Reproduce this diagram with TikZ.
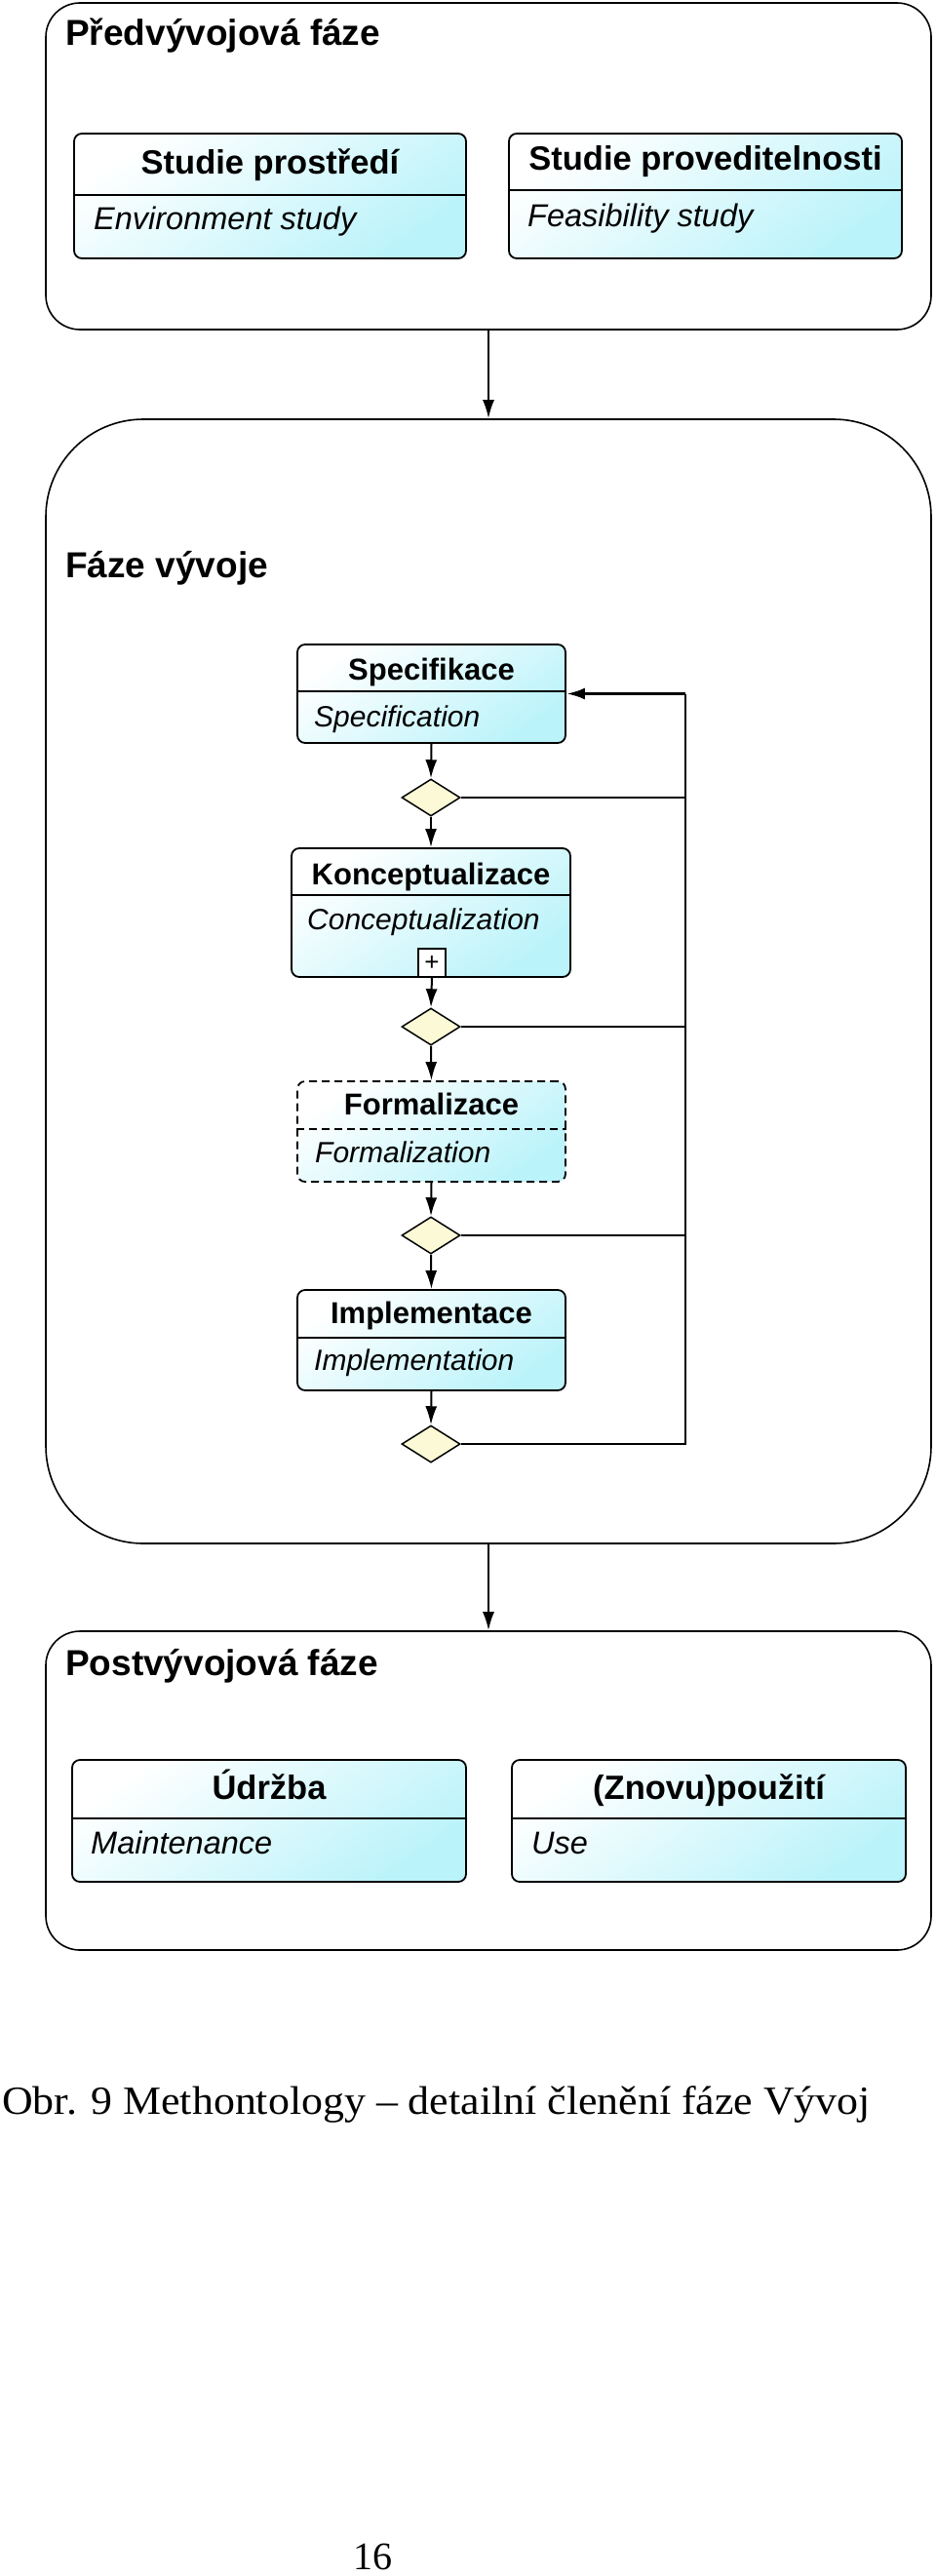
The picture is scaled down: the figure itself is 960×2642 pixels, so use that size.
\documentclass[tikz,border=0pt]{standalone}
\usepackage{fontspec}
\usepackage{graphicx}
\setmainfont{Liberation Serif}
\setsansfont{Liberation Sans}
\usetikzlibrary{shapes.geometric,arrows.meta}

\definecolor{boxcyan}{RGB}{186,243,250}
\definecolor{gatefill}{RGB}{252,250,214}

\tikzset{
  phase/.style={draw, line width=1.6pt, minimum width=908pt, inner sep=0pt},
  act/.style={draw, line width=1.8pt, rounded corners=8pt, top color=white,
    bottom color=boxcyan, shading angle=35, inner sep=0pt},
  gate/.style={diamond, draw, line width=1.5pt, fill=gatefill,
    minimum width=60pt, minimum height=38pt, inner sep=0pt},
  flow/.style={line width=2pt, -{Latex[length=19pt,width=12pt]}},
  phasetitle/.style={anchor=base west, inner sep=0pt,
    font=\fontsize{37}{44}\selectfont\sffamily\bfseries},
  bighdr/.style={anchor=base, inner sep=0pt,
    font=\fontsize{34.5}{40}\selectfont\sffamily\bfseries},
  bigsub/.style={anchor=base west, inner sep=0pt,
    font=\fontsize{32.5}{38}\selectfont\sffamily\itshape},
  hdr/.style={anchor=base, inner sep=0pt,
    font=\fontsize{31}{36}\selectfont\sffamily\bfseries},
  sub/.style={anchor=base west, inner sep=0pt,
    font=\fontsize{30}{36}\selectfont\sffamily\itshape},
}

\begin{document}
\begin{tikzpicture}[x=1pt, y=-1pt]
  \useasboundingbox (0,0) rectangle (960,2642);

  % phases
  \node[phase, minimum height=335pt, rounded corners=35pt] (pre) at (501,170.5) {};
  \node[phase, minimum height=1153pt, rounded corners=100pt] (dev) at (501,1006.5) {};
  \node[phase, minimum height=327pt, rounded corners=35pt] (post) at (501,1836.5) {};
  \node[phasetitle] (pre-t) at (67,46) {Předvývojová fáze};
  \node[phasetitle] (dev-t) at (67,592) {Fáze vývoje};
  \node[phasetitle] (post-t) at (67,1718) {Postvývojová fáze};

  \draw[flow] (pre.south) -- (dev.north);
  \draw[flow] (dev.south) -- (post.north);

  % pre-development
  \node[act, minimum width=402pt, minimum height=128pt] (env) at (277,201) {};
  \draw[line width=1.8pt] (env.west |- 0,200) -- (env.east |- 0,200);
  \node[bighdr] (env-h) at (277,178) {Studie prostředí};
  \node[bigsub] (env-t) at (96,235) {Environment study};

  \node[act, minimum width=403pt, minimum height=128pt] (feas) at (723.5,201) {};
  \draw[line width=1.8pt] (feas.west |- 0,195) -- (feas.east |- 0,195);
  \node[bighdr] (feas-h) at (723.5,174) {Studie proveditelnosti};
  \node[bigsub] (feas-t) at (541,232) {Feasibility study};

  % development
  \node[act, minimum width=275pt, minimum height=101pt] (spec) at (442.5,711.5) {};
  \draw[line width=1.8pt] (spec.west |- 0,709) -- (spec.east |- 0,709);
  \node[hdr] (spec-h) at (442.5,697) {Specifikace};
  \node[sub] (spec-t) at (322,745) {Specification};

  \node[gate] (g1) at (442,818) {};

  \node[act, minimum width=286pt, minimum height=132pt] (konc) at (442,936) {};
  \draw[line width=1.8pt] (konc.west |- 0,918) -- (konc.east |- 0,918);
  \node[hdr] (konc-h) at (442,907) {Konceptualizace};
  \node[sub] (konc-t) at (315,953) {Conceptualization};
  \node[draw, line width=1.5pt, fill=white, minimum width=28pt, minimum height=29pt,
    inner sep=0pt, font=\fontsize{26}{26}\selectfont\sffamily] (kplus) at (443,987.5) {+};

  \node[gate] (g2) at (442,1053) {};

  \node[act, dashed, dash pattern=on 8pt off 5pt, minimum width=275pt,
    minimum height=103pt] (form) at (442.5,1160.5) {};
  \draw[line width=1.8pt, dash pattern=on 8pt off 5pt] (form.west |- 0,1158) -- (form.east |- 0,1158);
  \node[hdr] (form-h) at (442.5,1143) {Formalizace};
  \node[sub] (form-t) at (323,1192) {Formalization};

  \node[gate] (g3) at (442,1267) {};

  \node[act, minimum width=275pt, minimum height=103pt] (impl) at (442.5,1374.5) {};
  \draw[line width=1.8pt] (impl.west |- 0,1372) -- (impl.east |- 0,1372);
  \node[hdr] (impl-h) at (442.5,1357) {Implementace};
  \node[sub] (impl-t) at (322,1405) {Implementation};

  \node[gate] (g4) at (442,1481) {};

  \draw[flow] (spec.south) -- (g1.north);
  \draw[flow] (g1.south) -- (konc.north);
  \draw[flow] (kplus.south) -- (g2.north);
  \draw[flow] (g2.south) -- (form.north);
  \draw[flow] (form.south) -- (g3.north);
  \draw[flow] (g3.south) -- (impl.north);
  \draw[flow] (impl.south) -- (g4.north);

  % back to specification
  \coordinate (back) at (703,711.5);
  \draw[line width=2pt] (g4.east) -| (back);
  \draw[line width=2pt] (g1.east) -- (g1.east -| back);
  \draw[line width=2pt] (g2.east) -- (g2.east -| back);
  \draw[line width=2pt] (g3.east) -- (g3.east -| back);
  \draw[flow, line width=3.2pt] (back) -- (spec.east);

  % post-development
  \node[act, minimum width=404pt, minimum height=125pt] (maint) at (276,1867.5) {};
  \draw[line width=1.8pt] (maint.west |- 0,1865) -- (maint.east |- 0,1865);
  \node[bighdr] (maint-h) at (276,1845) {Údržba};
  \node[bigsub] (maint-t) at (93,1901) {Maintenance};

  \node[act, minimum width=404pt, minimum height=125pt] (reuse) at (727,1867.5) {};
  \draw[line width=1.8pt] (reuse.west |- 0,1865) -- (reuse.east |- 0,1865);
  \node[bighdr] (reuse-h) at (727,1845) {(Znovu)použití};
  \node[bigsub] (reuse-t) at (545,1901) {Use};

  % caption and page
  \node[anchor=base west, inner sep=0pt, font=\fontsize{41}{48}\selectfont] (cap) at (2,2168)
    {\scalebox{1.07}[1]{Obr. 9 Methontology – detailní členění fáze Vývoj}};
  \node[anchor=base west, inner sep=0pt, font=\fontsize{40}{48}\selectfont] (page) at (362,2635) {16};
\end{tikzpicture}
\end{document}
